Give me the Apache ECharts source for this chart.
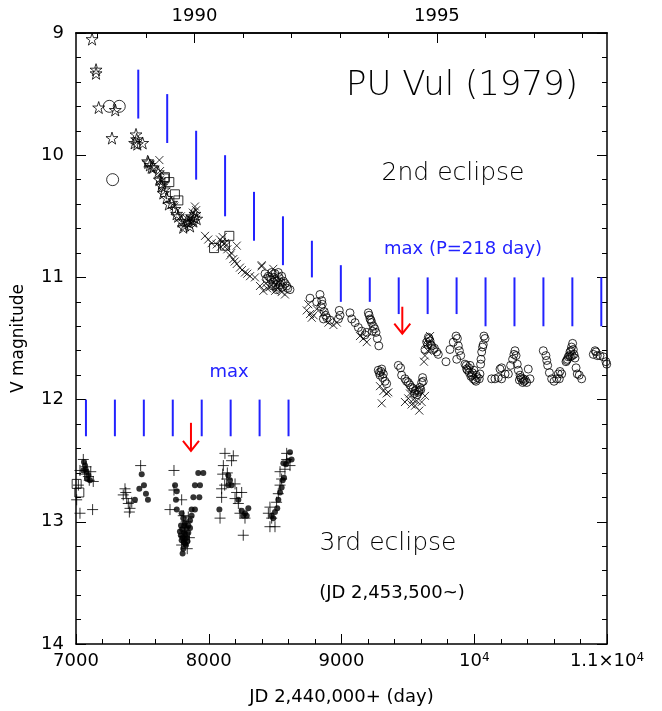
<!DOCTYPE html>
<html>
<head>
<meta charset="utf-8">
<script src="https://cdn.jsdelivr.net/npm/echarts@6/dist/echarts.min.js"></script>
<style>
  html, body { margin: 0; padding: 0; background: #fff; }
  #chart { width: 662px; height: 711px; }
</style>
</head>
<body>
<div id="chart"></div>
<script>
// light curve of PU Vul, V magnitude vs JD - 2,440,000
const starPts = [
  [7121, 9.05], [7151, 9.30], [7151, 9.33], [7171, 9.61], [7296, 9.63], [7271, 9.86],
  [7452, 9.83], [7442, 9.90], [7462, 9.91], [7502, 9.90], [7457, 9.87],
  [7540, 10.05], [7557, 10.08], [7582, 10.10], [7628, 10.20], [7648, 10.23], [7545, 10.06],
  [7570, 10.10], [7620, 10.14], [7645, 10.25], [7658, 10.31], [7683, 10.35], [7700, 10.40],
  [7720, 10.39], [7745, 10.44], [7758, 10.48], [7770, 10.50], [7795, 10.54], [7808, 10.59],
  [7834, 10.54], [7859, 10.58], [7871, 10.50], [7884, 10.54], [7896, 10.48], [7909, 10.52],
  [7820, 10.57], [7850, 10.55], [7890, 10.51], [7665, 10.28]
]
const bigCirclePts = [[7251, 9.60], [7326, 9.60], [7276, 10.20]]
const circlePts = [
  // 1992
  [8424, 10.97], [8449, 10.99], [8474, 10.96], [8499, 10.97], [8524, 10.96], [8549, 10.99],
  [8562, 11.03], [8587, 11.07], [8612, 11.10], [8537, 11.06], [8486, 11.04], [8511, 11.10],
  [8436, 11.01], [8460, 11.00], [8500, 11.02], [8575, 11.05], [8530, 11.00], [8595, 11.09],
  [8470, 11.02], [8490, 11.00], [8515, 11.03], [8545, 11.04], [8555, 11.08], [8480, 11.07],
  [8505, 11.06], [8525, 11.08],
  // 1993
  [8763, 11.17], [8838, 11.14], [8851, 11.19], [8813, 11.20], [8983, 11.27], [8989, 11.31],
  [8977, 11.34], [8889, 11.33], [8914, 11.35], [8864, 11.34], [8845, 11.24], [8870, 11.28],
  [8855, 11.22], [8880, 11.31],
  // 1993-94
  [9064, 11.29], [9077, 11.34], [9102, 11.37], [9127, 11.41], [9152, 11.44], [9177, 11.47],
  [9202, 11.29], [9215, 11.34], [9227, 11.37], [9240, 11.40], [9260, 11.45], [9270, 11.50],
  [9281, 11.56], [9208, 11.31], [9222, 11.35], [9250, 11.42], [9190, 11.45], [9232, 11.44],
  // 1994 minimum
  [9277, 11.76], [9303, 11.75], [9290, 11.80], [9315, 11.79], [9328, 11.85], [9340, 11.87],
  [9285, 11.78], [9310, 11.82], [9298, 11.77],
  [9428, 11.72], [9445, 11.74], [9453, 11.80], [9478, 11.83], [9503, 11.86], [9528, 11.90],
  [9554, 11.93], [9579, 11.94], [9591, 11.90], [9604, 11.86], [9611, 11.82], [9616, 11.85],
  [9490, 11.85], [9515, 11.88], [9540, 11.91], [9565, 11.92], [9597, 11.92], [9550, 11.95],
  [9570, 11.96], [9585, 11.93],
  // 1995
  [9654, 11.49], [9667, 11.52], [9642, 11.53], [9679, 11.56], [9692, 11.59], [9717, 11.61],
  [9729, 11.63], [9629, 11.59], [9660, 11.50], [9700, 11.58], [9650, 11.55], [9672, 11.55],
  [9787, 11.69], [9817, 11.59], [9842, 11.53], [9863, 11.48], [9873, 11.50], [9880, 11.56],
  [9888, 11.60], [9898, 11.64], [9868, 11.67], [9930, 11.71], [9943, 11.75], [9963, 11.78],
  [9981, 11.80], [9993, 11.83], [10013, 11.85], [9968, 11.72], [9998, 11.76], [10023, 11.82],
  [10038, 11.83], [10043, 11.79], [10048, 11.71], [10056, 11.61], [10068, 11.55], [10081, 11.50],
  [10073, 11.48], [10063, 11.57], [10051, 11.67], [9950, 11.76], [9975, 11.81], [10005, 11.84],
  [9940, 11.72], [9958, 11.74], [9985, 11.78], [10015, 11.80],
  // 1996
  [10131, 11.83], [10156, 11.83], [10181, 11.82], [10206, 11.83], [10194, 11.75], [10206, 11.74],
  [10232, 11.79], [10257, 11.79], [10274, 11.72], [10289, 11.67], [10299, 11.63], [10307, 11.60],
  [10315, 11.64], [10324, 11.71], [10332, 11.76], [10345, 11.80], [10357, 11.83], [10375, 11.85],
  [10395, 11.86], [10407, 11.75], [10420, 11.83], [10340, 11.84], [10365, 11.86], [10385, 11.84],
  [10350, 11.82], [10370, 11.83],
  // 1997
  [10520, 11.60], [10540, 11.64], [10546, 11.68], [10553, 11.72], [10566, 11.78], [10583, 11.83],
  [10601, 11.85], [10621, 11.83], [10633, 11.79], [10646, 11.77], [10659, 11.79], [10641, 11.83],
  [10691, 11.69], [10696, 11.68], [10708, 11.65], [10716, 11.64], [10721, 11.61], [10733, 11.57],
  [10741, 11.54], [10746, 11.59], [10751, 11.63], [10759, 11.66], [10767, 11.74], [10776, 11.79],
  [10791, 11.80], [10809, 11.83], [10728, 11.60], [10738, 11.64], [10702, 11.67], [10725, 11.65],
  // 1998
  [10897, 11.63], [10910, 11.60], [10917, 11.61], [10927, 11.64], [10947, 11.64], [10972, 11.65],
  [10992, 11.69], [10998, 11.71]
]
const crossPts = [
  [7628, 10.04], [7633, 10.13], [7633, 10.20], [7740, 10.42], [7790, 10.50], [7860, 10.52],
  [7880, 10.47], [7896, 10.42], [7905, 10.45], [7870, 10.55], [7845, 10.53],
  [7972, 10.66], [7996, 10.69], [8022, 10.72], [8060, 10.73], [8085, 10.69], [8090, 10.75],
  [8100, 10.71], [8105, 10.67], [8122, 10.72], [8130, 10.74], [8140, 10.77], [8160, 10.82],
  [8185, 10.85], [8211, 10.89], [8211, 10.74], [8235, 10.92], [8250, 10.94], [8273, 10.96],
  [8290, 10.97], [8311, 10.99], [8348, 11.00], [8399, 10.90], [8170, 10.80], [8195, 10.87],
  [8386, 11.07], [8411, 11.11], [8430, 11.05], [8461, 11.08], [8520, 11.09], [8549, 11.12],
  [8574, 11.14], [8399, 10.91], [8486, 10.93], [8440, 11.09], [8500, 11.11],
  [8738, 11.27], [8750, 11.22], [8763, 11.30], [8776, 11.33], [8813, 11.26], [8864, 11.29],
  [8902, 11.37], [8939, 11.39], [8965, 11.37], [8790, 11.31],
  [9139, 11.48], [9165, 11.50], [9190, 11.53],
  [9290, 11.89], [9315, 11.93], [9340, 11.95], [9303, 12.03], [9353, 11.94],
  [9478, 12.02], [9503, 11.99], [9516, 11.95], [9528, 12.04], [9554, 12.05], [9566, 12.01],
  [9586, 12.09], [9604, 12.02], [9629, 11.97], [9540, 12.00],
  [9667, 11.48], [9640, 11.55], [9650, 11.60], [9629, 11.64], [9621, 11.69]
]
const squarePts = [
  [7665, 10.19], [7670, 10.18], [7703, 10.22], [7745, 10.32], [7771, 10.37],
  [8040, 10.76], [8122, 10.74], [8155, 10.66],
  [7005, 12.69], [7025, 12.76]
]
const plusPts = [
  [7055, 12.49], [7030, 12.58], [7075, 12.55], [7093, 12.63], [7111, 12.59], [7130, 12.67],
  [7018, 12.70], [7005, 12.82], [7030, 12.93], [7125, 12.90], [7065, 12.61], [7100, 12.66],
  [7369, 12.73], [7356, 12.78], [7382, 12.81], [7394, 12.85], [7407, 12.89], [7420, 12.84],
  [7402, 12.92], [7487, 12.54], [7375, 12.76],
  [7738, 12.58], [7738, 12.74], [7708, 12.90], [7796, 12.82],
  [7808, 12.95], [7846, 12.96], [7821, 13.05], [7854, 13.13], [7796, 13.19], [7838, 13.22],
  [7830, 13.00], [7815, 13.12],
  [8122, 12.44], [8185, 12.46], [8172, 12.50], [8110, 12.54], [8105, 12.61], [8135, 12.65],
  [8097, 12.73], [8097, 12.80], [8198, 12.69], [8210, 12.76], [8248, 12.76], [8198, 12.81],
  [8223, 12.85], [8235, 12.93], [8273, 12.97], [8260, 13.11], [8085, 12.97], [8120, 12.70],
  [8140, 12.60],
  [8461, 12.88], [8449, 12.93], [8474, 12.97], [8461, 13.04], [8499, 13.04], [8511, 12.84],
  [8524, 12.77], [8537, 12.70], [8549, 12.65], [8537, 12.59], [8587, 12.44], [8612, 12.54],
  [8574, 12.57], [8587, 12.49]
]
const dotPts = [
  [7060, 12.51], [7068, 12.54], [7055, 12.58], [7080, 12.59], [7093, 12.62], [7085, 12.65],
  [7105, 12.66], [7072, 12.57],
  [7444, 12.82], [7495, 12.61], [7512, 12.70], [7477, 12.73], [7527, 12.77], [7542, 12.82],
  [7746, 12.70], [7759, 12.75], [7753, 12.82], [7759, 12.90],
  [7921, 12.60], [7959, 12.60], [7896, 12.70], [7934, 12.70], [7884, 12.80], [7929, 12.80],
  [7871, 12.90], [7896, 12.90],
  [7796, 12.93], [7808, 12.97], [7821, 13.01], [7834, 13.05], [7814, 13.09], [7803, 13.13],
  [7821, 13.18], [7808, 13.22], [7803, 13.26], [7846, 13.03], [7859, 12.99], [7871, 12.95],
  [7834, 13.13], [7846, 13.09], [7859, 13.05], [7791, 13.03], [7783, 13.08], [7796, 13.15],
  [7829, 13.19], [7815, 13.03], [7826, 13.10], [7790, 13.11], [7840, 13.16], [7812, 13.17],
  [7800, 13.06], [7820, 13.14],
  [8147, 12.62], [8160, 12.66], [8172, 12.70], [8147, 12.70], [8080, 12.90], [8223, 12.82],
  [8248, 12.91], [8273, 12.93], [8298, 12.89], [8286, 12.95], [8260, 12.95],
  [8474, 12.95], [8486, 12.97], [8499, 12.92], [8516, 12.89], [8524, 12.82], [8537, 12.76],
  [8549, 12.72], [8557, 12.66], [8567, 12.64], [8562, 12.52], [8599, 12.50], [8624, 12.49],
  [8582, 12.53], [8612, 12.43]
]

// predicted maxima (P = 218 d): [JD, top mag, bottom mag]
const max2nd = [
  [7469, 9.30, 9.70], [7687, 9.50, 9.90], [7905, 9.80, 10.20], [8123, 10.00, 10.50],
  [8341, 10.30, 10.70], [8559, 10.50, 10.90], [8777, 10.70, 11.00], [8995, 10.90, 11.20],
  [9213, 11.00, 11.20], [9431, 11.00, 11.30], [9649, 11.00, 11.30], [9867, 11.00, 11.30],
  [10085, 11.00, 11.40], [10303, 11.00, 11.40], [10521, 11.00, 11.40], [10739, 11.00, 11.40],
  [10957, 11.00, 11.40]
]
const max3rd = [
  [7075, 12.0, 12.3], [7293, 12.0, 12.3], [7511, 12.0, 12.3], [7729, 12.0, 12.3],
  [7947, 12.0, 12.3], [8165, 12.0, 12.3], [8383, 12.0, 12.3], [8601, 12.0, 12.3]
]
// eclipse minima arrows: [JD, tail mag, head mag]
const arrowPts = [[9458, 11.24, 11.46], [7866, 12.19, 12.42]]

// top axis: Jan 1 of each year
const years = [1988, 1989, 1990, 1991, 1992, 1993, 1994, 1995, 1996, 1997, 1998]
const yearJD = [7161.5, 7527.5, 7892.5, 8257.5, 8622.5, 8988.5, 9353.5, 9718.5, 10083.5, 10449.5, 10814.5]
const labelYears = [1990, 1995]

const font = 'DejaVu Sans'
const thin = 200
const blue = '#2222ff'
const red = '#ff0000'

const starPath = 'path://M50,2L61,36L97,36L68,57L79,92L50,71L21,92L32,57L3,36L39,36Z'
const crossPath = 'path://M0,0L10,10M10,0L0,10'
const plusPath = 'path://M5,0L5,10M0,5L10,5'

const openStyle = { color: 'rgba(0,0,0,0)', borderColor: '#000', borderWidth: 1 }

function vbarItem(color) {
  return function (params, api) {
    const a = api.coord([api.value(0), api.value(1)])
    const b = api.coord([api.value(0), api.value(2)])
    return {
      type: 'line',
      shape: { x1: a[0], y1: a[1], x2: b[0], y2: b[1] },
      style: { stroke: color, lineWidth: 2 }
    }
  }
}

// red arrow: shaft plus open head
function arrowItem(params, api) {
  const a = api.coord([api.value(0), api.value(1)])
  const b = api.coord([api.value(0), api.value(2)])
  return {
    type: 'group',
    children: [
      { type: 'polyline', shape: { points: [a, b] }, style: { stroke: red, lineWidth: 2, fill: null } },
      { type: 'polyline', shape: { points: [[b[0] - 8, b[1] - 10], b, [b[0] + 8, b[1] - 10]] }, style: { stroke: red, lineWidth: 2, fill: null } }
    ]
  }
}

const axisLine = { lineStyle: { color: '#000', width: 1.5 } }
const labelStyle = { color: '#000', fontFamily: font, fontSize: 18 }

function txt(x, y, text, size, color, weight) {
  return {
    type: 'text', x, y,
    style: { text, fontFamily: font, fontWeight: weight, fontSize: size, fill: color, align: 'center', verticalAlign: 'middle' }
  }
}

const chart = echarts.init(document.getElementById('chart'))
chart.setOption({
  animation: false,
  backgroundColor: '#fff',
  grid: { left: 76, right: 55, top: 33, bottom: 65 },
  xAxis: [
    {
      type: 'value', min: 7000, max: 11000, interval: 1000, position: 'bottom',
      axisLine, splitLine: { show: false },
      axisTick: { inside: true, length: 10, lineStyle: { color: '#000' } },
      minorTick: { show: true, splitNumber: 5, length: 5, lineStyle: { color: '#000' } },
      axisLabel: {
        ...labelStyle, margin: 8,
        formatter: v => v === 10000 ? '10{sup|4}' : v === 11000 ? '1.1×10{sup|4}' : String(v),
        rich: { sup: { fontSize: 12, verticalAlign: 'top', fontFamily: font, color: '#000' } }
      },
      name: 'JD 2,440,000+ (day)', nameLocation: 'middle', nameGap: 44,
      nameTextStyle: { ...labelStyle }
    },
    {
      type: 'value', min: 7000, max: 11000, position: 'top', offset: 0,
      axisLine, splitLine: { show: false },
      axisTick: { inside: true, length: 5, customValues: yearJD, lineStyle: { color: '#000' } },
      axisLabel: { show: false }
    },
    {
      type: 'value', min: 7000, max: 11000, position: 'top', offset: 0,
      axisLine, splitLine: { show: false },
      axisTick: { inside: true, length: 10, customValues: labelYears.map(y => yearJD[years.indexOf(y)]), lineStyle: { color: '#000' } },
      axisLabel: {
        ...labelStyle, margin: 8,
        customValues: labelYears.map(y => yearJD[years.indexOf(y)]),
        formatter: v => String(years[yearJD.indexOf(v)])
      }
    }
  ],
  yAxis: [
    {
      type: 'value', inverse: true, min: 9, max: 14, interval: 1, position: 'left',
      axisLine, splitLine: { show: false },
      axisTick: { inside: true, length: 10, lineStyle: { color: '#000' } },
      minorTick: { show: true, splitNumber: 5, length: 5, lineStyle: { color: '#000' } },
      axisLabel: { ...labelStyle, margin: 12 },
      name: 'V magnitude', nameLocation: 'middle', nameGap: 49,
      nameTextStyle: { ...labelStyle, fontSize: 17 }
    },
    {
      type: 'value', inverse: true, min: 9, max: 14, interval: 1, position: 'right',
      axisLine, splitLine: { show: false },
      axisTick: { inside: true, length: 10, lineStyle: { color: '#000' } },
      minorTick: { show: true, splitNumber: 5, length: 5, lineStyle: { color: '#000' } },
      axisLabel: { show: false }
    }
  ],
  graphic: [
    txt(462, 86, 'PU Vul (1979)', 34, '#000', thin),
    txt(453, 173, '2nd eclipse', 25, '#000', thin),
    txt(463, 249, 'max (P=218 day)', 18, blue, 'normal'),
    txt(229, 372, 'max', 18, blue, 'normal'),
    txt(388, 543, '3rd eclipse', 25, '#000', thin),
    txt(392, 593, '(JD 2,453,500~)', 18, '#000', 'normal')
  ],
  series: [
    { type: 'custom', renderItem: vbarItem(blue), data: max2nd, silent: true },
    { type: 'custom', renderItem: vbarItem(blue), data: max3rd, silent: true },
    { type: 'custom', renderItem: arrowItem, data: arrowPts, silent: true },
    { name: 'star', type: 'scatter', data: starPts, symbol: starPath, symbolSize: 12, itemStyle: openStyle },
    { name: 'circleL', type: 'scatter', data: bigCirclePts, symbol: 'circle', symbolSize: 12, itemStyle: openStyle },
    { name: 'circle', type: 'scatter', data: circlePts, symbol: 'circle', symbolSize: 8, itemStyle: openStyle },
    { name: 'cross', type: 'scatter', data: crossPts, symbol: crossPath, symbolSize: 8, itemStyle: openStyle },
    { name: 'square', type: 'scatter', data: squarePts, symbol: 'rect', symbolSize: 9, itemStyle: openStyle },
    { name: 'plus', type: 'scatter', data: plusPts, symbol: plusPath, symbolSize: 11, itemStyle: openStyle },
    { name: 'dot', type: 'scatter', data: dotPts, symbol: 'circle', symbolSize: 6, itemStyle: { color: '#000' } }
  ]
})
</script>
</body>
</html>
